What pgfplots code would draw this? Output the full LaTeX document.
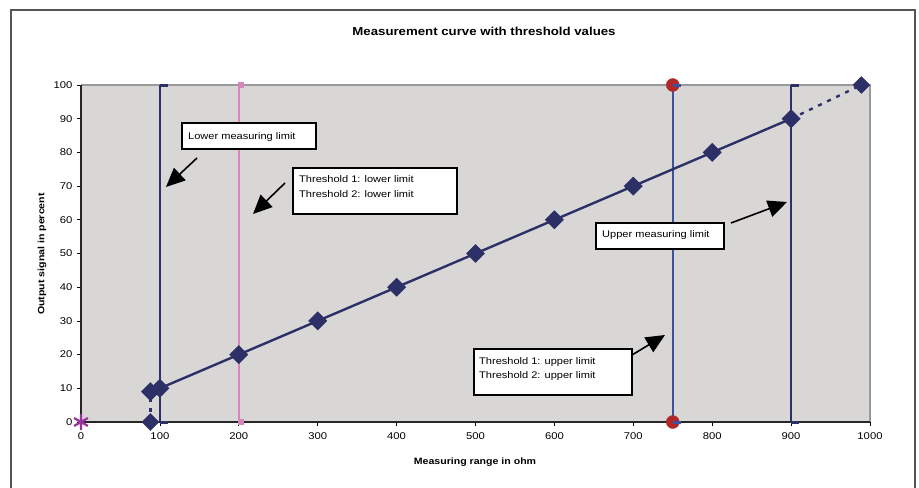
\documentclass[border=0pt]{standalone}
\usepackage{pgfplots}
\pgfplotsset{compat=1.18}
\usepackage{fontspec}
\setmainfont[FakeStretch=1.15]{Liberation Sans}
\usetikzlibrary{arrows.meta}
\definecolor{navy}{RGB}{44,48,102}
\definecolor{lineblue}{RGB}{58,82,160}
\definecolor{pinkline}{RGB}{214,134,186}
\definecolor{redmark}{RGB}{176,40,40}
\definecolor{starpurple}{RGB}{153,51,153}
\definecolor{plotgray}{RGB}{217,215,214}
\definecolor{framegray}{RGB}{85,85,85}

\begin{document}
\begin{tikzpicture}
    \path[use as bounding box] (0,0) rectangle (919bp,-488bp);
    \begin{axis}[
            at={(81bp,-422bp)}, anchor=south west,
            scale only axis,
            width=789bp, height=337bp,
            xmin=0, xmax=1000,
            ymin=0, ymax=100,
            xtick distance=100,
            ytick distance=10,
            axis background/.style={fill=plotgray},
            axis line style={draw=none},
            tick align=outside,
            major tick length=4bp,
            tick style={black, line width=0.8bp},
            xtick pos=bottom, ytick pos=left,
            /pgf/number format/assume math mode=true,
            /pgf/number format/set thousands separator={},
            tick label style={font=\fontsize{9.8bp}{12bp}\selectfont},
            xticklabel style={yshift=-3bp},
            yticklabel style={xshift=-1bp},
            clip=false,
        ]
        % plot area border
        \draw[gray!80, line width=1.2bp] (rel axis cs:0,1) -- (rel axis cs:1,1) -- (rel axis cs:1,0);
        \draw[black!85, line width=1.5bp] (rel axis cs:0,1) -- (rel axis cs:0,0) -- (rel axis cs:1,0);

        %% lower measuring limit
        \addplot[navy, line width=2.2bp] coordinates {(100,0) (100,100)};
        \addplot[only marks, navy, mark=-, mark size=4bp, mark options={line width=3bp}] coordinates {(105,0) (105,100)};
        %% threshold lower limit
        \addplot[pinkline, line width=2.2bp] coordinates {(200,0) (200,100)};
        \addplot[only marks, pinkline, mark=square*, mark size=2.5bp] coordinates {(202,0) (202,100)};
        %% threshold upper limit
        \addplot[lineblue, line width=2.2bp] coordinates {(750,0) (750,100)};
        \addplot[only marks, redmark, mark=*, mark size=6.5bp] coordinates {(750,0) (750,100)};
        \addplot[only marks, lineblue, mark=-, mark size=4bp, mark options={line width=3bp}] coordinates {(755,0) (755,100)};
        %% upper measuring limit
        \addplot[navy, line width=2.2bp] coordinates {(900,0) (900,100)};
        \addplot[only marks, navy, mark=-, mark size=4bp, mark options={line width=3bp}] coordinates {(905,0) (905,100)};

        %% measurement curve
        \addplot[navy, line width=2.4bp, dash pattern=on 4bp off 6bp] coordinates {(88,0) (88,9)};
        \addplot[navy, line width=2.4bp, dash pattern=on 4bp off 6bp] coordinates {(900,90) (989,100)};
        \addplot[navy, line width=2.4bp, mark=square*, mark size=5.5bp, mark options={rotate=45, solid}] coordinates {
                (88,9) (100,10) (200,20) (300,30) (400,40) (500,50)
                (600,60) (700,70) (800,80) (900,90)
            };
        \addplot[only marks, navy, mark=square*, mark size=6bp, mark options={rotate=45}] coordinates {(88,0) (989,100)};
        %% origin
        \addplot[only marks, starpurple, mark=asterisk, mark size=8bp, mark options={line width=2.2bp}] coordinates {(0,0)};
    \end{axis}

    \begin{scope}[x=1bp, y=-1bp]
        % outer chart frame
        \draw[framegray, line width=1.5bp] (11,500) -- (11,10) -- (915,10) -- (915,500);
        \node[font=\bfseries\fontsize{11.5bp}{14bp}\selectfont] at (484,31) {Measurement curve with threshold values};
        \node[font=\bfseries\fontsize{9.2bp}{12bp}\selectfont] at (475,462) {Measuring range in ohm};
        \node[font=\bfseries\fontsize{9.2bp}{12bp}\selectfont, rotate=90] at (42,254) {Output signal in percent};

        \tikzset{note/.style={font=\fontsize{9.6bp}{12bp}\selectfont, inner sep=0pt, anchor=base west},
            box/.style={draw=black, fill=white, line width=1.5bp},
            pointer/.style={line width=1.6bp, -{Triangle[length=19bp, width=17bp]}}}
        % lower measuring limit
        \draw[box] (182,123) rectangle (316,149);
        \node[note] at (188,139) {Lower measuring limit};
        \draw[pointer] (197,158) -- (166,187);
        % threshold lower limits
        \draw[box] (293,168) rectangle (457,214);
        \node[note] at (299,182) {Threshold 1: lower limit};
        \node[note] at (299,197) {Threshold 2: lower limit};
        \draw[pointer] (285,183) -- (253,214);
        % upper measuring limit
        \draw[box] (596,223) rectangle (724,249);
        \node[note] at (602,237) {Upper measuring limit};
        \draw[pointer] (731,223) -- (787,202);
        % threshold upper limits
        \draw[box] (474,349) rectangle (632,395);
        \node[note] at (479,364) {Threshold 1: upper limit};
        \node[note] at (479,378) {Threshold 2: upper limit};
        \draw[pointer] (632,355) -- (665,335);
    \end{scope}
\end{tikzpicture}
\end{document}
